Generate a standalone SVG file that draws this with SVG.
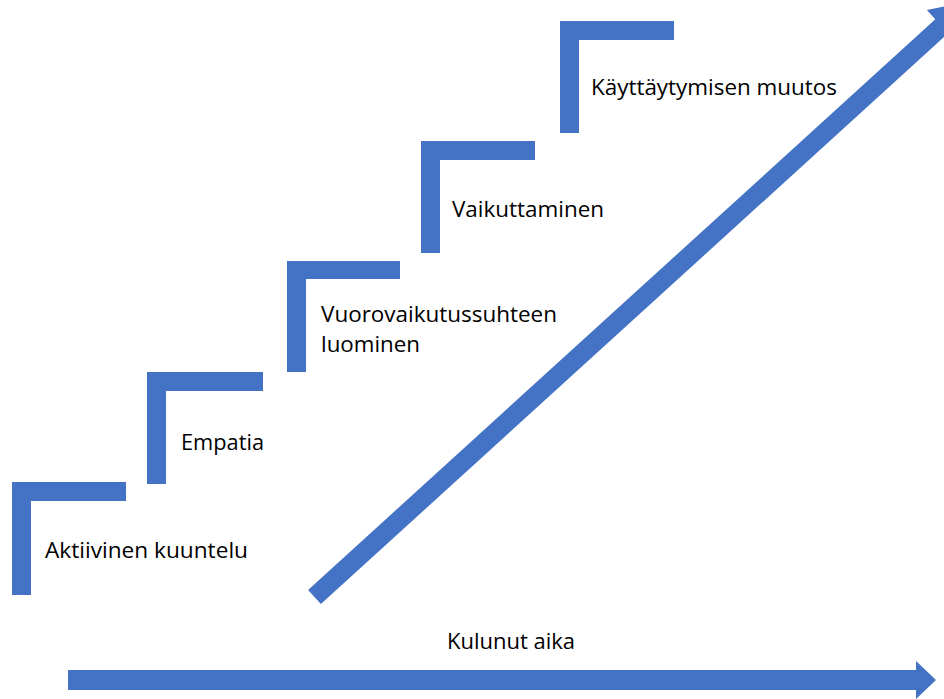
<svg xmlns="http://www.w3.org/2000/svg" width="944" height="699" viewBox="0 0 944 699">
<style>
.step{fill:#4472C4;}
.arrow{fill:#4472C4;}
.lbl{font-family:"Open Sans","Liberation Sans",sans-serif;font-size:22px;fill:#000;}
</style>
<rect width="944" height="699" fill="#fff"/>
<g id="connectors">
<g id="diagonal-arrow" transform="translate(314.5,597) rotate(-42.3)">
<polygon class="arrow" points="0,-9.5 848,-9.5 848,-22 885,0 848,22 848,9.5 0,9.5"/>
</g>
<polygon id="time-arrow" class="arrow" points="68,670 916,670 916,661 936,680 916,699 916,690 68,690"/>
</g>
<g id="step1">
<path class="step" d="M12,482 H126 V501 H31 V595 H12 Z"/>
<text class="lbl" x="45" y="558" textLength="203" lengthAdjust="spacingAndGlyphs">Aktiivinen kuuntelu</text>
</g>
<g id="step2">
<path class="step" d="M147,372 H263 V391 H166 V484 H147 Z"/>
<text class="lbl" x="181" y="450" textLength="83" lengthAdjust="spacingAndGlyphs">Empatia</text>
</g>
<g id="step3">
<path class="step" d="M287,261 H400 V279 H306 V372 H287 Z"/>
<text class="lbl" x="321" y="322" textLength="236" lengthAdjust="spacingAndGlyphs">Vuorovaikutussuhteen</text>
<text class="lbl" x="321" y="352" textLength="99" lengthAdjust="spacingAndGlyphs">luominen</text>
</g>
<g id="step4">
<path class="step" d="M421,141 H535 V160 H440 V253 H421 Z"/>
<text class="lbl" x="452" y="217" textLength="152" lengthAdjust="spacingAndGlyphs">Vaikuttaminen</text>
</g>
<g id="step5">
<path class="step" d="M560,21 H674 V40 H579 V133 H560 Z"/>
<text class="lbl" x="591" y="95" textLength="246" lengthAdjust="spacingAndGlyphs">Käyttäytymisen muutos</text>
</g>
<g id="time-label">
<text class="lbl" x="447" y="649" textLength="128" lengthAdjust="spacingAndGlyphs">Kulunut aika</text>
</g>
</svg>
